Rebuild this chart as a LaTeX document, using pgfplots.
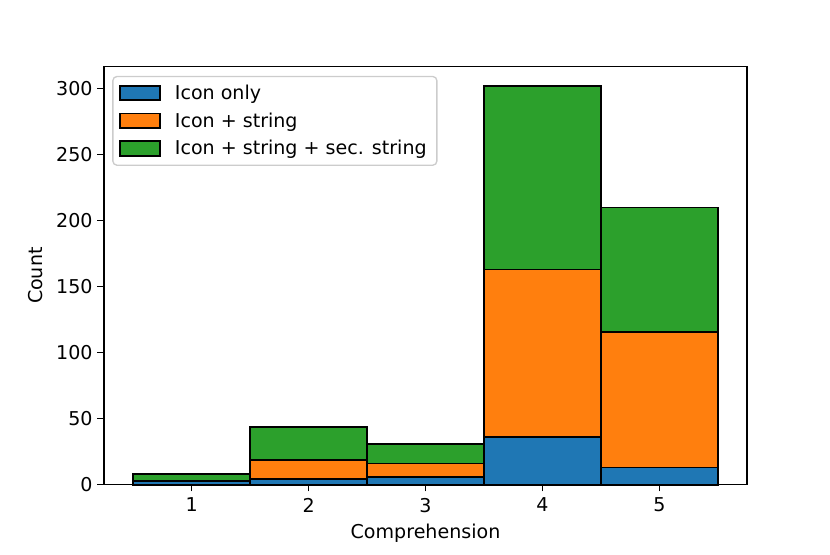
\documentclass[border=0pt]{standalone}
\usepackage{pgfplots}
\pgfplotsset{compat=1.18}
\usepackage{fontspec}
\setmainfont{DejaVu Sans}
\definecolor{c1}{HTML}{1F77B4}
\definecolor{c2}{HTML}{FF7F0E}
\definecolor{c3}{HTML}{2CA02C}
\begin{document}
\begin{tikzpicture}[x=1pt,y=1pt]
% page frame, 830x554 px
\path[use as bounding box] (0,0) rectangle (622.5pt,415.5pt);
\begin{axis}[
    at={(78pt,52pt)},
    anchor=south west,
    scale only axis,
    width=482.25pt,
    height=313.5pt,
    xmin=0.25, xmax=5.75,
    ymin=0, ymax=316.7,
    ybar stacked,
    bar width=1,
    clip=false,
    xtick={1,2,3,4,5},
    ytick={0,50,100,150,200,250,300},
    xlabel={Comprehension},
    ylabel={Count},
    xlabel style={yshift=-2pt},
    ylabel style={yshift=3.5pt},
    tick align=outside,
    tick pos=left,
    major tick length=5pt,
    tick style={black,line width=0.8pt},
    axis line style={line width=0.8pt},
    ticklabel style={font=\fontsize{14.3}{16}\selectfont},
    xticklabel style={yshift=-1.5pt},
    label style={font=\fontsize{14.3}{16}\selectfont},
    /pgf/number format/assume math mode=true,
    legend style={at={(0.0128,0.978)},anchor=north west,
      font=\fontsize{14.3}{16}\selectfont,
      draw=black!20,line width=1pt,rounded corners=3pt,
      row sep=6.5pt,inner xsep=4.6pt,inner ysep=5.2pt,
      nodes={inner xsep=3pt,inner ysep=1pt}},
    legend cell align=left,
    legend image code/.code={
      \draw[sharp corners,line width=1.4pt,#1] (1.5pt,-5.5pt) rectangle (31.5pt,5.5pt);
      \path (39pt,0pt);
    },
]
\addplot[fill=c1,draw=black,line width=1.4pt] coordinates {(1,3) (2,4) (3,6) (4,36) (5,13)};
\addplot[fill=c2,draw=black,line width=1.4pt] coordinates {(1,0) (2,15) (3,10) (4,127) (5,103)};
\addplot[fill=c3,draw=black,line width=1.4pt] coordinates {(1,5) (2,25) (3,15) (4,139) (5,94)};
\legend{Icon only,Icon + string,Icon + string + sec. string}
\end{axis}
\end{tikzpicture}
\end{document}
